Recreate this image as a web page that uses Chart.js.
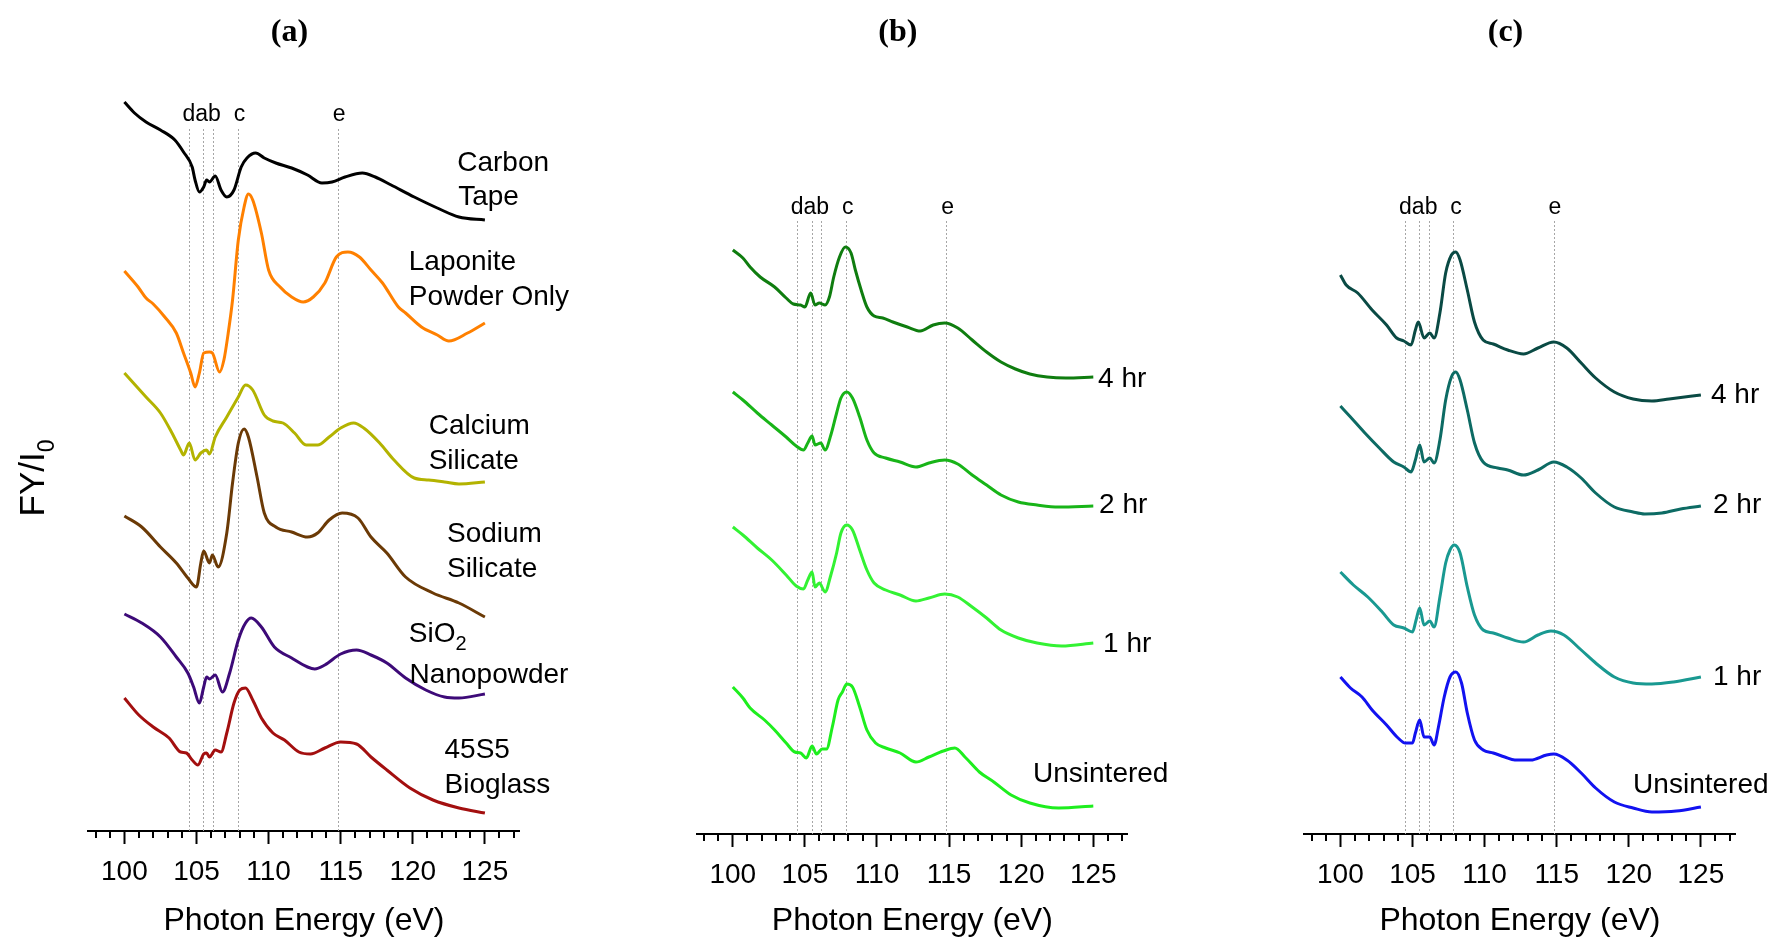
<!DOCTYPE html>
<html>
<head>
<meta charset="utf-8">
<title>Si L-edge XANES</title>
<script src="https://cdn.jsdelivr.net/npm/chart.js@4.4.1/dist/chart.umd.min.js"></script>
<style>
  body { margin: 0; background: #fff; }
  #wrap { position: relative; width: 1775px; height: 947px; background: #fff; }
  canvas { position: absolute; top: 0; }
</style>
</head>
<body>
<div id="wrap">
  <canvas id="panelA" width="600" height="947" style="left:0px"></canvas>
  <canvas id="panelB" width="600" height="947" style="left:600px"></canvas>
  <canvas id="panelC" width="575" height="947" style="left:1200px"></canvas>
</div>
<script>
// photon energy axis (eV)
const energyMin = 97.5;
const energyMax = 127.4;
const energyTicks = [100, 105, 110, 115, 120, 125];

// spectral features marked with dotted lines
const featureNamesA = [['dab', 105.36], ['c', 107.98], ['e', 114.9]];
const featureNamesB = [['dab', 105.35], ['c', 107.98], ['e', 114.9]];
const featureNamesC = [['dab', 105.4], ['c', 108.02], ['e', 114.87]];
const featuresA = [104.45, 105.48, 106.13, 107.88, 114.84];
const featuresB = [104.42, 105.49, 106.09, 107.83, 114.81];
const featuresC = [104.46, 105.47, 106.11, 107.84, 114.82];

// (a) reference materials, FY/I0 (offset for display): [eV, FY/I0]
const carbonTape = [[100,7.29],[100.7,7.18],[101.5,7.09],[102.5,7.01],[103.5,6.91],[104.1,6.79],[104.7,6.64],[104.9,6.51],[105.2,6.39],[105.5,6.44],[105.7,6.51],[105.9,6.49],[106.3,6.55],[106.7,6.41],[107.1,6.34],[107.6,6.41],[108.1,6.64],[108.5,6.73],[109.1,6.78],[109.7,6.73],[110.5,6.68],[111.6,6.63],[112.7,6.56],[113.7,6.48],[114.4,6.49],[115.3,6.54],[116.5,6.58],[117.4,6.54],[118.5,6.46],[120.1,6.34],[121.7,6.23],[123.2,6.14],[125,6.11]];
const laponite = [[100,5.60],[100.95,5.44],[101.5,5.33],[102,5.27],[102.8,5.14],[103.6,4.98],[104.1,4.78],[104.6,4.58],[104.9,4.44],[105.2,4.58],[105.5,4.78],[105.9,4.79],[106.1,4.78],[106.6,4.59],[106.9,4.71],[107.2,4.98],[107.5,5.31],[107.9,5.91],[108.3,6.24],[108.6,6.37],[108.9,6.31],[109.5,5.98],[110,5.61],[110.8,5.44],[111.6,5.34],[112.4,5.29],[113.1,5.34],[113.9,5.48],[114.7,5.74],[115.5,5.79],[116.3,5.74],[117.1,5.61],[117.9,5.48],[119,5.24],[119.5,5.18],[120.6,5.04],[121.7,4.96],[122.5,4.90],[123.8,4.98],[125,5.08]];
const calciumSilicate = [[100,4.58],[101.5,4.34],[102.5,4.18],[103.3,3.98],[103.9,3.81],[104.1,3.76],[104.5,3.88],[104.9,3.71],[105.3,3.78],[105.7,3.81],[105.9,3.77],[106.3,3.94],[107.1,4.14],[107.9,4.34],[108.4,4.46],[108.9,4.41],[109.7,4.16],[110.3,4.10],[111,4.08],[111.8,3.98],[112.6,3.86],[113.4,3.86],[114.2,3.94],[115,4.03],[115.9,4.08],[116.6,4.03],[117.7,3.88],[118.7,3.71],[120.1,3.53],[121.1,3.51],[122.2,3.49],[123.2,3.47],[125,3.49]];
const sodiumSilicate = [[100,3.15],[101.2,3.04],[102.5,2.84],[103.6,2.68],[104.4,2.53],[105,2.44],[105.3,2.68],[105.5,2.80],[105.9,2.68],[106.1,2.76],[106.5,2.64],[107.1,2.98],[107.5,3.48],[107.9,3.88],[108.3,4.02],[108.6,3.94],[109.2,3.54],[109.7,3.18],[110.5,3.04],[111.6,2.99],[112.7,2.94],[113.4,2.98],[114.2,3.11],[115.1,3.18],[116.2,3.13],[117.1,2.94],[118.2,2.78],[119.5,2.54],[121.4,2.38],[123.2,2.28],[125,2.14]];
const sio2Nanopowder = [[100,2.17],[101.2,2.08],[102.5,1.94],[103.6,1.74],[104.4,1.58],[104.8,1.44],[105.2,1.28],[105.5,1.44],[105.7,1.54],[105.9,1.52],[106.3,1.56],[106.8,1.39],[107.3,1.58],[107.9,1.91],[108.4,2.08],[108.8,2.13],[109.5,2.04],[110.4,1.84],[111.6,1.73],[112.7,1.64],[113.2,1.62],[113.9,1.66],[115,1.77],[116.1,1.81],[117.1,1.76],[118.2,1.68],[119.5,1.53],[120.9,1.41],[122.2,1.34],[123.2,1.33],[125,1.37]];
const bioglass45S5 = [[100,1.33],[101,1.16],[102,1.04],[103.1,0.93],[103.9,0.79],[104.3,0.78],[104.7,0.71],[105.1,0.66],[105.5,0.77],[105.7,0.78],[105.9,0.74],[106.3,0.81],[106.7,0.79],[107.1,0.98],[107.6,1.28],[108,1.41],[108.4,1.43],[108.9,1.31],[109.5,1.13],[110.3,0.98],[111.1,0.91],[112.1,0.79],[112.9,0.77],[113.9,0.83],[115,0.89],[116.1,0.87],[117.1,0.74],[118.2,0.61],[119.8,0.43],[121.4,0.31],[123.2,0.23],[125,0.18]];

// (b) sintering series 1
const b4hr = [[100,5.84],[100.7,5.76],[101.2,5.67],[101.9,5.57],[102.9,5.47],[103.7,5.36],[104.2,5.30],[104.7,5.29],[105,5.27],[105.4,5.41],[105.7,5.29],[106,5.31],[106.4,5.29],[106.7,5.37],[107,5.57],[107.4,5.77],[107.8,5.87],[108.2,5.81],[108.5,5.64],[108.9,5.44],[109.3,5.27],[109.8,5.18],[110.4,5.16],[111.1,5.12],[112.1,5.07],[113,5.03],[113.9,5.09],[114.7,5.11],[115.6,5.06],[116.6,4.94],[117.6,4.82],[118.6,4.72],[119.6,4.65],[120.6,4.60],[121.8,4.57],[123.1,4.56],[125,4.57]];
const b2hr = [[100,4.42],[100.7,4.34],[101.7,4.21],[102.7,4.09],[103.7,3.97],[104.4,3.88],[104.9,3.84],[105.2,3.91],[105.5,3.98],[105.7,3.89],[106.1,3.91],[106.4,3.84],[106.8,3.99],[107.2,4.21],[107.5,4.36],[107.9,4.42],[108.3,4.36],[108.8,4.17],[109.3,3.94],[109.8,3.81],[110.6,3.76],[111.6,3.72],[112.7,3.67],[113.6,3.71],[114.7,3.74],[115.6,3.70],[116.6,3.59],[117.6,3.49],[118.6,3.39],[119.8,3.32],[121.1,3.29],[122.6,3.27],[125,3.28]];
const b1hr = [[100,3.07],[100.7,2.99],[101.7,2.86],[102.7,2.74],[103.7,2.59],[104.4,2.48],[104.9,2.45],[105.2,2.54],[105.5,2.62],[105.7,2.47],[106,2.51],[106.4,2.42],[106.8,2.59],[107.2,2.81],[107.5,3.01],[107.9,3.09],[108.3,3.04],[108.8,2.84],[109.3,2.64],[109.8,2.51],[110.6,2.44],[111.6,2.39],[112.7,2.33],[113.6,2.36],[114.7,2.40],[115.6,2.37],[116.6,2.27],[117.6,2.16],[118.6,2.04],[119.8,1.96],[121.1,1.91],[122.8,1.88],[125,1.91]];
const bUnsintered = [[100,1.47],[100.7,1.36],[101.2,1.26],[102.2,1.14],[102.9,1.04],[103.7,0.91],[104.3,0.82],[104.7,0.81],[105.1,0.76],[105.5,0.88],[105.8,0.80],[106.2,0.85],[106.5,0.85],[106.9,1.07],[107.3,1.34],[107.6,1.42],[107.9,1.50],[108.3,1.47],[108.8,1.27],[109.3,1.04],[109.9,0.91],[110.6,0.86],[111.6,0.81],[112.7,0.72],[113.6,0.77],[114.6,0.83],[115.4,0.86],[116.1,0.77],[117.1,0.62],[118.1,0.52],[119.3,0.39],[120.6,0.31],[122.6,0.26],[125,0.28]];

// (c) sintering series 2
const c4hr = [[100,5.59],[100.4,5.49],[101.2,5.41],[102.2,5.24],[103.2,5.09],[103.9,4.96],[104.4,4.93],[104.9,4.89],[105.2,5.04],[105.4,5.12],[105.8,4.96],[106.2,5.01],[106.5,4.96],[106.9,5.21],[107.3,5.61],[107.7,5.79],[108,5.82],[108.3,5.74],[108.8,5.44],[109.3,5.12],[109.9,4.94],[110.6,4.90],[111.6,4.84],[112.7,4.80],[113.7,4.86],[114.8,4.92],[115.7,4.86],[116.7,4.71],[117.7,4.56],[119,4.42],[120.3,4.35],[121.6,4.33],[122.8,4.35],[125,4.39]];
const c2hr = [[100,4.28],[100.7,4.17],[101.7,4.01],[102.7,3.86],[103.7,3.72],[104.4,3.67],[104.9,3.62],[105.2,3.74],[105.5,3.89],[105.8,3.72],[106.2,3.76],[106.5,3.71],[106.9,3.94],[107.3,4.34],[107.7,4.57],[108,4.62],[108.3,4.54],[108.8,4.24],[109.3,3.91],[109.9,3.72],[110.9,3.66],[111.6,3.64],[112.7,3.59],[113.7,3.64],[114.8,3.72],[115.7,3.67],[116.7,3.56],[117.7,3.41],[119,3.27],[120.3,3.22],[121.1,3.20],[122.3,3.21],[123.6,3.25],[125,3.28]];
const c1hr = [[100,2.62],[100.9,2.49],[101.9,2.37],[102.9,2.22],[103.7,2.09],[104.4,2.06],[105,2.02],[105.25,2.14],[105.5,2.26],[105.8,2.09],[106.2,2.13],[106.5,2.07],[106.9,2.37],[107.3,2.71],[107.6,2.84],[107.9,2.89],[108.3,2.81],[108.8,2.47],[109.3,2.19],[109.9,2.04],[110.6,2.01],[111.6,1.96],[112.7,1.92],[113.7,1.99],[114.6,2.03],[115.5,1.99],[116.7,1.84],[117.7,1.71],[119,1.57],[120.3,1.51],[121.6,1.50],[123.1,1.52],[125,1.57]];
const cUnsintered = [[100,1.57],[100.7,1.46],[101.5,1.37],[102.2,1.24],[103.2,1.09],[104,0.96],[104.5,0.91],[105,0.91],[105.2,1.01],[105.5,1.14],[105.8,0.97],[106.2,0.97],[106.5,0.89],[106.8,1.07],[107.2,1.37],[107.6,1.57],[108,1.62],[108.4,1.51],[108.8,1.21],[109.3,0.94],[109.9,0.84],[110.6,0.81],[111.4,0.77],[112.1,0.74],[113.2,0.74],[114.3,0.79],[114.8,0.80],[115.7,0.74],[116.7,0.61],[117.7,0.46],[119,0.32],[120.3,0.26],[121.6,0.22],[123.3,0.23],[125,0.27]];

const sansFont = '"Liberation Sans", Arial, sans-serif';
const serifFont = '"Liberation Serif", "Times New Roman", serif';
Chart.defaults.font.family = sansFont;
Chart.defaults.color = '#000';

const plotTop = 40;

function toPoints(rows) {
  return rows.map(([x, y]) => ({ x, y }));
}

// draws markers, labels, minor ticks and titles for one panel
function panelDecor(p) {
  return {
    id: 'panelDecor',
    beforeDatasetsDraw(chart) {
      const { ctx, chartArea } = chart;
      const xs = chart.scales.x, ys = chart.scales.y;
      ctx.save();
      ctx.strokeStyle = '#a6a6a6';
      ctx.lineWidth = 1;
      ctx.setLineDash([2, 2]);
      const top = ys.getPixelForValue(p.featureLineTop);
      p.features.forEach(e => {
        const x = Math.round(xs.getPixelForValue(e)) + 0.5;
        ctx.beginPath();
        ctx.moveTo(x, top);
        ctx.lineTo(x, chartArea.bottom);
        ctx.stroke();
      });
      ctx.restore();
    },
    afterDraw(chart) {
      const { ctx } = chart;
      const xs = chart.scales.x, ys = chart.scales.y;
      ctx.save();

      // minor ticks every 1 eV
      ctx.strokeStyle = '#000';
      ctx.lineWidth = 2;
      ctx.beginPath();
      for (let v = Math.ceil(energyMin); v <= Math.floor(energyMax); v++) {
        if (v % 5 === 0) continue;
        const x = Math.round(xs.getPixelForValue(v));
        ctx.moveTo(x, xs.top);
        ctx.lineTo(x, xs.top + 7);
      }
      ctx.stroke();

      // feature letters
      ctx.fillStyle = '#000';
      ctx.font = '23px ' + sansFont;
      ctx.textAlign = 'center';
      ctx.textBaseline = 'alphabetic';
      const ly = ys.getPixelForValue(p.featureTextY);
      p.featureNames.forEach(([t, e]) => ctx.fillText(t, xs.getPixelForValue(e), ly));

      // curve labels
      ctx.textAlign = 'left';
      p.labels.forEach(l => {
        const x = xs.getPixelForValue(l.x), y = ys.getPixelForValue(l.y);
        ctx.font = '28px ' + sansFont;
        ctx.fillText(l.text, x, y);
        if (l.sub) {
          const w = ctx.measureText(l.text).width;
          ctx.font = '20px ' + sansFont;
          ctx.fillText(l.sub, x + w, y + 8);
        }
      });

      // panel title
      ctx.font = 'bold 32px ' + serifFont;
      ctx.textAlign = 'center';
      ctx.textBaseline = 'middle';
      ctx.fillText(p.title, xs.getPixelForValue(111.45), 33);

      // y axis title with subscript
      if (p.yTitle) {
        ctx.translate(44, 478);
        ctx.rotate(-Math.PI / 2);
        ctx.textAlign = 'left';
        ctx.textBaseline = 'alphabetic';
        ctx.font = '35px ' + sansFont;
        const wMain = ctx.measureText('FY/I').width;
        ctx.font = '23px ' + sansFont;
        const wSub = ctx.measureText('0').width;
        const start = -(wMain + wSub) / 2;
        ctx.font = '35px ' + sansFont;
        ctx.fillText('FY/I', start, 0);
        ctx.font = '23px ' + sansFont;
        ctx.fillText('0', start + wMain, 10);
      }
      ctx.restore();
    }
  };
}

function makePanel(id, p) {
  const canvas = document.getElementById(id);
  const W = canvas.width, H = canvas.height;
  const yMax = (p.axisY - plotTop) / 100;
  return new Chart(canvas, {
    type: 'line',
    data: {
      datasets: p.series.map(s => ({
        label: s.name,
        data: toPoints(s.data),
        borderColor: s.color,
        borderWidth: 3,
        pointRadius: 0,
        fill: false,
        cubicInterpolationMode: 'monotone'
      }))
    },
    options: {
      responsive: false,
      animation: false,
      devicePixelRatio: 1,
      layout: {
        padding: {
          left: p.plotLeft - p.canvasLeft,
          right: p.canvasLeft + W - p.plotRight,
          top: plotTop,
          bottom: H - p.axisY - p.axisHeight
        }
      },
      plugins: {
        legend: { display: false },
        tooltip: { enabled: false },
        title: { display: false }
      },
      scales: {
        x: {
          type: 'linear',
          position: 'bottom',
          min: energyMin,
          max: energyMax,
          border: { display: true, color: '#000', width: 2 },
          grid: {
            display: true,
            drawOnChartArea: false,
            drawTicks: true,
            tickLength: 13,
            tickWidth: 2,
            tickColor: c => (c.tick && c.tick.value % 5 === 0) ? '#000' : 'rgba(0,0,0,0)'
          },
          ticks: {
            stepSize: 1,
            includeBounds: false,
            autoSkip: false,
            maxRotation: 0,
            minRotation: 0,
            padding: 11,
            color: '#000',
            font: { size: 28 },
            callback: v => energyTicks.includes(v) ? String(v) : ''
          },
          title: {
            display: true,
            text: 'Photon Energy (eV)',
            color: '#000',
            font: { size: 32 },
            padding: 0
          },
          afterFit: s => { s.height = p.axisHeight; }
        },
        y: { type: 'linear', display: false, min: 0, max: yMax }
      }
    },
    plugins: [panelDecor(p)]
  });
}

makePanel('panelA', {
  canvasLeft: 0, plotLeft: 88.35, plotRight: 519.5, axisY: 831, axisHeight: 109,
  title: '(a)', yTitle: true,
  features: featuresA, featureNames: featureNamesA, featureTextY: 7.10, featureLineTop: 7.02,
  series: [
    { name: 'Carbon Tape', data: carbonTape, color: '#000000' },
    { name: 'Laponite Powder Only', data: laponite, color: '#ff8000' },
    { name: 'Calcium Silicate', data: calciumSilicate, color: '#b3b300' },
    { name: 'Sodium Silicate', data: sodiumSilicate, color: '#6b3a06' },
    { name: 'SiO2 Nanopowder', data: sio2Nanopowder, color: '#3d0a78' },
    { name: '45S5 Bioglass', data: bioglass45S5, color: '#a30f0f' }
  ],
  labels: [
    { text: 'Carbon', x: 123.08, y: 6.60 }, { text: 'Tape', x: 123.15, y: 6.26 },
    { text: 'Laponite', x: 119.72, y: 5.61 }, { text: 'Powder Only', x: 119.72, y: 5.26 },
    { text: 'Calcium', x: 121.1, y: 3.97 }, { text: 'Silicate', x: 121.1, y: 3.62 },
    { text: 'Sodium', x: 122.37, y: 2.89 }, { text: 'Silicate', x: 122.37, y: 2.54 },
    { text: 'SiO', sub: '2', x: 119.72, y: 1.89 }, { text: 'Nanopowder', x: 119.78, y: 1.48 },
    { text: '45S5', x: 122.2, y: 0.73 }, { text: 'Bioglass', x: 122.2, y: 0.38 }
  ]
});

makePanel('panelB', {
  canvasLeft: 600, plotLeft: 696.75, plotRight: 1127.9, axisY: 834, axisHeight: 106,
  title: '(b)', yTitle: false,
  features: featuresB, featureNames: featureNamesB, featureTextY: 6.20, featureLineTop: 6.13,
  series: [
    { name: '4 hr', data: b4hr, color: '#0f7d0f' },
    { name: '2 hr', data: b2hr, color: '#18b418' },
    { name: '1 hr', data: b1hr, color: '#33f233' },
    { name: 'Unsintered', data: bUnsintered, color: '#1eee1e' }
  ],
  labels: [
    { text: '4 hr', x: 125.33, y: 4.47 },
    { text: '2 hr', x: 125.4, y: 3.21 },
    { text: '1 hr', x: 125.68, y: 1.82 },
    { text: 'Unsintered', x: 120.82, y: 0.52 }
  ]
});

makePanel('panelC', {
  canvasLeft: 1200, plotLeft: 1304.35, plotRight: 1735.5, axisY: 834, axisHeight: 106,
  title: '(c)', yTitle: false,
  features: featuresC, featureNames: featureNamesC, featureTextY: 6.20, featureLineTop: 6.13,
  series: [
    { name: '4 hr', data: c4hr, color: '#0a4a44' },
    { name: '2 hr', data: c2hr, color: '#0d6b64' },
    { name: '1 hr', data: c1hr, color: '#199991' },
    { name: 'Unsintered', data: cUnsintered, color: '#1212f0' }
  ],
  labels: [
    { text: '4 hr', x: 125.7, y: 4.31 },
    { text: '2 hr', x: 125.84, y: 3.21 },
    { text: '1 hr', x: 125.84, y: 1.49 },
    { text: 'Unsintered', x: 120.3, y: 0.41 }
  ]
});
</script>
</body>
</html>
